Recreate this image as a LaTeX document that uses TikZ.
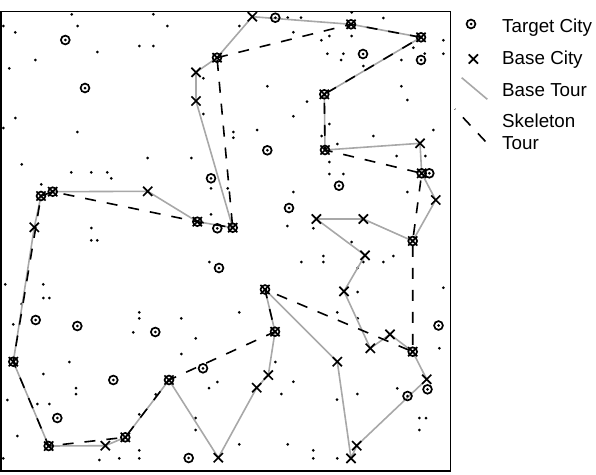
\documentclass[tikz,border=0pt]{standalone}
\usepackage{fontspec}
\setmainfont{Liberation Sans}
\definecolor{tourgray}{RGB}{168,168,168}
\tikzset{
  basetour/.style={draw=tourgray,line width=1.6pt,line join=round},
  skeltour/.style={draw=black,line width=1.6pt,dash pattern=on 11pt off 11pt},
  targetmk/.pic={\draw[line width=1.7pt] (0,0) circle (4.4pt); \fill (0,0) circle (1.5pt);},
  basexmk/.pic={\draw[line width=1.7pt] (-4.6,-4.6) -- (4.6,4.6) (-4.6,4.6) -- (4.6,-4.6);},
  legtext/.style={anchor=base west,inner sep=0pt,font=\fontsize{18.8}{22.4}\selectfont},
}
\begin{document}
\begin{tikzpicture}[x=1pt,y=-1pt]
\useasboundingbox (0,0) rectangle (596,474);
% base cities in tour order
\coordinate (b1) at (252.3,16.7);
\coordinate (b2) at (351,24.3);
\coordinate (b3) at (421,37.3);
\coordinate (b4) at (324.3,94.3);
\coordinate (b5) at (325,150);
\coordinate (b6) at (420,143.3);
\coordinate (b7) at (421.7,173.3);
\coordinate (b8) at (435.7,200);
\coordinate (b9) at (412.7,241);
\coordinate (b10) at (363.3,219);
\coordinate (b11) at (316.3,219);
\coordinate (b12) at (365,255.3);
\coordinate (b13) at (344,291.3);
\coordinate (b14) at (370.3,348.3);
\coordinate (b15) at (390,334.3);
\coordinate (b16) at (412.7,351.7);
\coordinate (b17) at (426.7,379.3);
\coordinate (b18) at (356.7,445.7);
\coordinate (b19) at (351,458.3);
\coordinate (b20) at (337.3,361.7);
\coordinate (b21) at (265,289.5);
\coordinate (b22) at (275,331.7);
\coordinate (b23) at (268.3,375);
\coordinate (b24) at (256.7,387.7);
\coordinate (b25) at (218.3,457.7);
\coordinate (b26) at (169,380);
\coordinate (b27) at (125.3,437.3);
\coordinate (b28) at (105.3,445.7);
\coordinate (b29) at (48.7,446);
\coordinate (b30) at (13.3,361.7);
\coordinate (b31) at (34.3,227.3);
\coordinate (b32) at (41,196);
\coordinate (b33) at (52.7,191.7);
\coordinate (b34) at (147.7,191.3);
\coordinate (b35) at (197.3,221.7);
\coordinate (b36) at (232.7,227.7);
\coordinate (b37) at (196,101);
\coordinate (b38) at (196,72.3);
\coordinate (b39) at (217,57.7);
% other target cities
\coordinate (t1) at (65.3,40);
\coordinate (t2) at (85,88);
\coordinate (t3) at (275.3,17.7);
\coordinate (t4) at (363,54);
\coordinate (t5) at (421,60);
\coordinate (t6) at (267.3,150.3);
\coordinate (t7) at (211,178.3);
\coordinate (t8) at (339,185.7);
\coordinate (t9) at (429.3,173.3);
\coordinate (t10) at (289,208);
\coordinate (t11) at (217.3,228.3);
\coordinate (t12) at (219,268);
\coordinate (t13) at (35.7,320);
\coordinate (t14) at (77.3,326);
\coordinate (t15) at (155.3,332);
\coordinate (t16) at (438.5,325.5);
\coordinate (t17) at (113.3,380);
\coordinate (t18) at (203,368.3);
\coordinate (t19) at (427.5,389.3);
\coordinate (t20) at (407.5,396);
\coordinate (t21) at (57.3,418);
\coordinate (t22) at (188.7,458);
% frame
\draw[line width=1.6pt] (1.2,11.3) rectangle (450.5,471);
% plain cities
\foreach \p in {(71.7,14.3),(153.3,14.3),(3.3,26),(77.7,26),(167.3,26),(15.3,32.3),(139.3,46),(153.3,46),(97.3,52),(35.3,60),(9.3,68.3),(203.3,78.3),(203.3,114),(15.3,118),(3.3,128),(77.3,132),(147.7,158),(191.3,158),
(287.7,17.7),(301,17.7),(351.7,12.3),(383.3,18),(443.3,40.3),(293.3,32.3),(321.3,40.3),(329.3,36),(351.7,36),(239.3,26),(327.3,53.7),(343.3,53.7),(341,60),(413.3,47.7),(401.3,60),(424.7,53.7),(443.3,53.7),(363.3,66),(267.3,86.3),(307,101.7),(401.3,86.3),(407.3,100),(293.3,116.3),(329.3,124),(257,130),(233.3,132),(233.3,137.7),(433.3,130),(373.3,136),(321.7,136),(337.3,144),
(21.7,164.3),(71.3,172.3),(91.3,172.3),(107.3,172.3),(111.3,178.3),(41.3,184.3),(211,188.3),(227.7,188.3),(211,214.3),(91.3,228),(91.3,240.3),(97.3,240.3),(209.3,262),(5.3,284.3),(43.3,284.3),(43.3,298),(49.3,298),(21.7,304),
(396.7,156),(425.3,156),(329.3,162),(329.3,174),(343.3,174),(293.3,192),(407.3,192),(287.3,226),(313.3,228.3),(351.7,242),(301.3,262),(323.3,256),(323.3,262),(363.3,262),(383.3,262),(393.3,256),(357.7,268),(357.7,292),(443.3,287.7),
(139.3,312.3),(139.3,318.3),(181.3,318.3),(13.3,324.3),(133.3,332.3),(195.7,338.3),(69.3,362),(181.3,354),(43.3,374),(76,388),(76,394),(217.3,382),(209,388),(7.3,400),(37.3,404),(49.3,404),(155.7,394.3),(139.3,414.3),(17.3,436),(195.7,418),(195.7,430),(139.3,450.3),(139.3,458.3),(119.3,458.3),(99.3,460),(3.3,458.3),
(239.3,312.3),(275.3,362),(337.3,312.3),(357.7,318.3),(439.3,348.3),(293.3,381.7),(281.3,394),(337,399.7),(357.3,394),(397.3,388.3),(419.3,418),(426,418),(419.3,430),(239.3,444.3),(287.7,444.3),(313.3,450.3),(313.3,458.3),(337.3,458.3)}
  \fill \p circle (1.5pt);
% base tour
\draw[basetour] (b1) -- (b2) -- (b3) -- (b4) -- (b5) -- (b6) -- (b7) -- (b8) -- (b9) -- (b10) -- (b11) -- (b12) -- (b13) -- (b14) -- (b15) -- (b16) -- (b17) -- (b18) -- (b19) -- (b20) -- (b21) -- (b22) -- (b23) -- (b24) -- (b25) -- (b26) -- (b27) -- (b28) -- (b29) -- (b30) -- (b31) -- (b32) -- (b33) -- (b34) -- (b35) -- (b36) -- (b37) -- (b38) -- (b39) -- cycle;
% skeleton tour
\draw[skeltour] (b39) -- (b2) -- (b3) -- (b4) -- (b5) -- (b7) -- (b9) -- (b16) -- (b21) -- (b22) -- (b26) -- (b27) -- (b29) -- (b30) -- (b32) -- (b33) -- (b35) -- (b36) -- cycle;
% target markers
\foreach \n in {b2,b3,b4,b5,b7,b9,b16,b21,b22,b26,b27,b29,b30,b32,b33,b35,b36,b39,t1,t2,t3,t4,t5,t6,t7,t8,t9,t10,t11,t12,t13,t14,t15,t16,t17,t18,t19,t20,t21,t22}
  \pic at (\n) {targetmk};
% base city markers
\foreach \n in {1,...,39}
  \pic at (b\n) {basexmk};
% legend
\coordinate (lg1) at (471,24);
\coordinate (lg2) at (473.3,59);
\coordinate (lg3a) at (461.7,77.7);
\coordinate (lg3b) at (487.3,99.3);
\coordinate (lg4a) at (455,109);
\coordinate (lg4b) at (486,142);
\pic at (lg1) {targetmk};
\pic at (lg2) {basexmk};
\draw[basetour] (lg3a) -- (lg3b);
\draw[skeltour,dash phase=10.5pt] (lg4a) -- (lg4b);
\node[legtext] (lt1) at (502,32) {Target City};
\node[legtext] (lt2) at (502,64.5) {Base City};
\node[legtext] (lt3) at (502,96.5) {Base Tour};
\node[legtext] (lt4) at (502,127.5) {Skeleton};
\node[legtext] (lt5) at (502,149.5) {Tour};
\end{tikzpicture}
\end{document}
